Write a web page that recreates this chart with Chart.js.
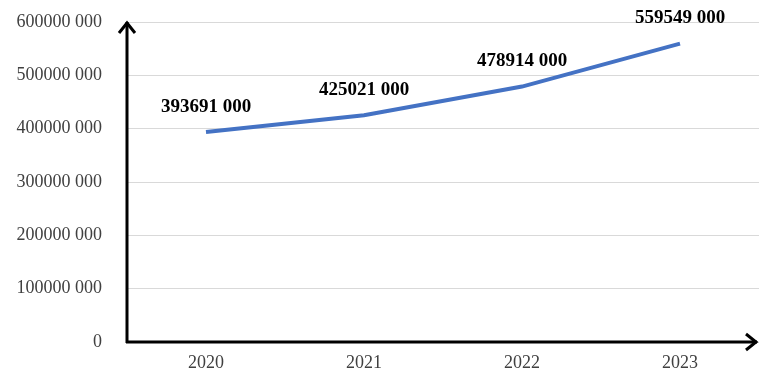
<!DOCTYPE html>
<html>
<head>
<meta charset="utf-8">
<script src="https://cdn.jsdelivr.net/npm/chart.js@4/dist/chart.umd.min.js"></script>
<style>
  body { margin: 0; background: #fff; }
  #wrap { width: 782px; height: 386px; }
</style>
</head>
<body>
<div id="wrap"><canvas id="chiffre"></canvas></div>
<script>
// donnees
const annees = ["2020", "2021", "2022", "2023"];
const valeurs = [393691000, 425021000, 478914000, 559549000];
const yMax = 600000000;
const yPas = 100000000;

// 393691000 -> "393691 000"
function formatNbr(v) {
  if (v === 0) return "0";
  let s = String(Math.round(v));
  return s.slice(0, -3) + " " + s.slice(-3);
}

// axes noirs avec fleches
const flechesAxes = {
  id: 'flechesAxes',
  afterDatasetsDraw(chart) {
    const ctx = chart.ctx;
    const a = chart.chartArea;
    ctx.save();
    ctx.strokeStyle = '#000';
    ctx.lineWidth = 3;
    ctx.lineCap = 'butt';
    // axe y
    ctx.beginPath();
    ctx.moveTo(a.left, a.bottom + 1);
    ctx.lineTo(a.left, a.top);
    ctx.stroke();
    ctx.beginPath();
    ctx.moveTo(a.left - 8, a.top + 11);
    ctx.lineTo(a.left, a.top + 1);
    ctx.lineTo(a.left + 8, a.top + 11);
    ctx.stroke();
    // axe x
    const xf = a.right - 2;
    ctx.beginPath();
    ctx.moveTo(a.left - 1, a.bottom);
    ctx.lineTo(xf, a.bottom);
    ctx.stroke();
    ctx.beginPath();
    ctx.moveTo(xf - 11, a.bottom - 8);
    ctx.lineTo(xf - 1, a.bottom);
    ctx.lineTo(xf - 11, a.bottom + 8);
    ctx.stroke();
    ctx.restore();
  }
};

// etiquettes de valeurs au dessus des points
const etiquettes = {
  id: 'etiquettes',
  afterDatasetsDraw(chart) {
    const ctx = chart.ctx;
    const meta = chart.getDatasetMeta(0);
    ctx.save();
    ctx.font = 'bold 19px "Liberation Serif", "Times New Roman", serif';
    ctx.fillStyle = '#000';
    ctx.textAlign = 'center';
    ctx.textBaseline = 'middle';
    meta.data.forEach(function(pt, i) {
      ctx.fillText(formatNbr(valeurs[i]), pt.x, pt.y - 25);
    });
    ctx.restore();
  }
};

new Chart(document.getElementById("chiffre"), {
  type: 'line',
  data: {
    labels: annees,
    datasets: [{
      data: valeurs,
      borderColor: '#4472C4',
      borderWidth: 4,
      pointRadius: 0,
      fill: false,
      tension: 0
    }]
  },
  options: {
    responsive: true,
    maintainAspectRatio: false,
    animation: false,
    layout: { padding: { top: 22, right: 23, left: 0, bottom: 0 } },
    plugins: {
      legend: { display: false },
      tooltip: { enabled: false }
    },
    scales: {
      x: {
        offset: true,
        grid: { display: false, drawTicks: false },
        border: { display: false },
        ticks: {
          padding: 10,
          color: '#404040',
          font: { family: '"Liberation Serif", "Times New Roman", serif', size: 18 }
        },
        afterFit: function(s) { s.height = 44; s.paddingLeft = 0; s.paddingRight = 0; }
      },
      y: {
        min: 0,
        max: yMax,
        grid: { color: '#d9d9d9', lineWidth: 1, drawTicks: false },
        border: { display: false },
        ticks: {
          stepSize: yPas,
          padding: 25,
          color: '#404040',
          font: { family: '"Liberation Serif", "Times New Roman", serif', size: 18 },
          callback: function(v) { return formatNbr(v); }
        },
        afterFit: function(s) { s.width = 127; s.paddingTop = 0; s.paddingBottom = 0; }
      }
    }
  },
  plugins: [flechesAxes, etiquettes]
});
</script>
</body>
</html>
